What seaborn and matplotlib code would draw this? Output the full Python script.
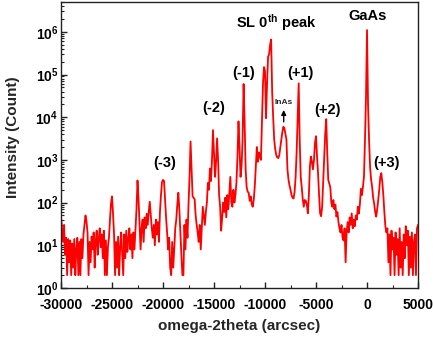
import numpy as np
import pandas as pd
import matplotlib
matplotlib.use("Agg")
import matplotlib.pyplot as plt
import seaborn as sns
from matplotlib.ticker import MultipleLocator, FuncFormatter, LogLocator, NullFormatter

# omega-2theta grid (arcsec): start and step of the scan
omega_start = -30000
omega_step = 100

# intensity (counts), one value per 100 arcsec
intensity = [
    45, 25, 12, 30, 6, 15, 2, 14, 4, 13,            # -30000
    2, 11, 3, 14, 2, 8, 15, 2, 12, 2,               # -29000
    14, 5, 18, 30, 50, 36, 20, 2, 12, 4,            # -28000
    16, 8, 20, 3, 12, 22, 6, 14, 25, 9,             # -27000
    18, 5, 22, 2, 13, 2, 9, 15, 40, 95,             # -26000
    140, 55, 18, 2, 12, 3, 16, 2, 9, 20,            # -25000
    6, 2, 18, 5, 22, 7, 14, 25, 8, 18,              # -24000
    5, 20, 8, 24, 70, 330, 120, 30, 8, 25,          # -23000
    40, 12, 45, 25, 55, 30, 60, 105, 50, 25,        # -22000
    15, 30, 10, 40, 18, 35, 12, 60, 150, 300,       # -21000
    340, 320, 120, 45, 20, 8, 15, 3, 2, 12,         # -20000
    3, 8, 25, 40, 90, 170, 70, 20, 6, 2,            # -19000
    2, 30, 8, 40, 15, 90, 400, 2700, 600, 140,      # -18000
    130, 120, 50, 30, 20, 12, 30, 8, 25, 80,        # -17000
    50, 30, 60, 100, 290, 200, 630, 320, 1000, 5000,  # -16000
    1500, 400, 900, 3200, 1000, 150, 80, 22, 45, 100,  # -15000
    60, 130, 45, 150, 70, 160, 400, 100, 80, 200,   # -14000
    100, 150, 300, 1200, 8000, 2000, 400, 700, 3000, 60000,  # -13000
    8000, 600, 230, 180, 170, 110, 140, 90, 80, 120,  # -12000
    250, 700, 2000, 900, 1500, 1200, 1000, 8000, 60000, 150000,  # -11000
    120000, 9500, 60000, 260000, 300000, 500000, 660000, 40000, 10000, 3000,  # -10000
    1800, 1300, 1150, 1100, 1300, 2000, 3000, 4500, 6000, 5500,  # -9000
    4000, 3000, 600, 350, 250, 200, 150, 130, 125, 180,  # -8000
    400, 1500, 10000, 62000, 3000, 400, 230, 120, 80, 115,  # -7000
    110, 90, 56, 150, 700, 1200, 900, 600, 1000, 2500,  # -6000
    3600, 1200, 480, 150, 56, 48, 80, 300, 1200, 4000,  # -5000
    9000, 1500, 340, 280, 230, 100, 80, 115, 70, 90,  # -4000
    47, 60, 35, 25, 20, 30, 15, 13, 25, 4,          # -3000
    20, 35, 20, 45, 30, 56, 25, 40, 28, 50,         # -2000
    40, 80, 55, 90, 210, 150, 234, 400, 2900, 30000,  # -1000
    1100000, 20000, 2900, 690, 350, 234, 130, 95, 60, 47,  # 0
    70, 115, 200, 400, 490, 300, 150, 60, 28, 20,   # 1000
    25, 4, 18, 2, 22, 8, 15, 2, 20, 6,              # 2000
    14, 2, 25, 3, 12, 2, 18, 5, 28, 10,             # 3000
    22, 2, 16, 3, 20, 2, 12, 18, 2, 25,             # 4000
    30,                                             # 5000
]
omega = omega_start + omega_step * np.arange(len(intensity))

# peak annotations
label_text = ["SL 0$^{\\mathrm{th}}$ peak", "GaAs", "(-1)", "(+1)", "(-2)", "(+2)", "(-3)", "(+3)"]
label_x = [-8900, 50, -12090, -6568, -15050, -3921, -19853, 1912]
label_y = [10**6.21, 10**6.37, 10**5.04, 10**5.04, 10**4.21, 10**4.17, 10**2.93, 10**2.93]
inas_x = -8167
inas_text_y = 10**4.344
inas_arrow_from = 10**3.89
inas_arrow_to = 10**4.17

sns.set_theme(style="ticks")
plt.rcParams["font.family"] = ["Liberation Sans", "DejaVu Sans"]
plt.rcParams["font.weight"] = "bold"
plt.rcParams["axes.unicode_minus"] = False
plt.rcParams["mathtext.fontset"] = "custom"
plt.rcParams["mathtext.rm"] = "Liberation Sans:bold"
plt.rcParams["mathtext.bf"] = "Liberation Sans:bold"
plt.rcParams["mathtext.it"] = "Liberation Sans:bold:italic"

df = pd.DataFrame({"omega": omega, "intensity": intensity})

fig = plt.figure(figsize=(4.33, 3.42), dpi=100)
ax = fig.add_axes([0.1409, 0.1579, 0.8245, 0.8363])
sns.lineplot(data=df, x="omega", y="intensity", color="#ff0000", linewidth=1.3,
             estimator=None, ax=ax)
ax.set_yscale("log")
ax.set_ylim(1, 5e6)
ax.set_xlim(-30000, 5000)

ax.xaxis.set_major_locator(MultipleLocator(5000))
ax.xaxis.set_minor_locator(MultipleLocator(2500))
ax.xaxis.set_major_formatter(FuncFormatter(lambda v, p: f"{int(round(v))}"))
ax.yaxis.set_major_locator(LogLocator(base=10, numticks=10))
ax.yaxis.set_minor_locator(LogLocator(base=10, subs=np.arange(2, 10), numticks=20))
ax.yaxis.set_minor_formatter(NullFormatter())
ax.yaxis.set_major_formatter(FuncFormatter(lambda v, p: r"$\mathbf{10^{%d}}$" % int(round(np.log10(v)))))

ax.tick_params(axis="both", which="both", direction="in", top=False, right=False,
               colors="#222222", labelcolor="black")
ax.tick_params(axis="both", which="major", length=4, width=1, labelsize=10)
ax.tick_params(axis="x", which="major", pad=7.5)
ax.tick_params(axis="y", which="major", pad=2)
ax.tick_params(axis="both", which="minor", length=2.5, width=0.8)
for lab in ax.get_xticklabels() + ax.get_yticklabels():
    lab.set_fontweight("bold")
for sp in ax.spines.values():
    sp.set_color("#222222")
    sp.set_linewidth(1.0)

ax.set_xlabel("omega-2theta (arcsec)", fontsize=11, fontweight="bold")
ax.set_ylabel("Intensity (Count)", fontsize=11, fontweight="bold")
ax.xaxis.set_label_coords(0.5, -0.108)
ax.yaxis.set_label_coords(-0.115, 0.526)

for t, x, y in zip(label_text, label_x, label_y):
    ax.text(x, y, t, ha="center", va="center", fontsize=10.5, fontweight="bold", color="black")

ax.text(inas_x, inas_text_y, "InAs", ha="center", va="center", fontsize=6, fontweight="bold")
ax.annotate("", xy=(inas_x, inas_arrow_to), xytext=(inas_x, inas_arrow_from),
            arrowprops=dict(arrowstyle="-|>", color="black", lw=1.0, mutation_scale=7,
                            shrinkA=0, shrinkB=0))

fig.savefig("out.png", dpi=100)
